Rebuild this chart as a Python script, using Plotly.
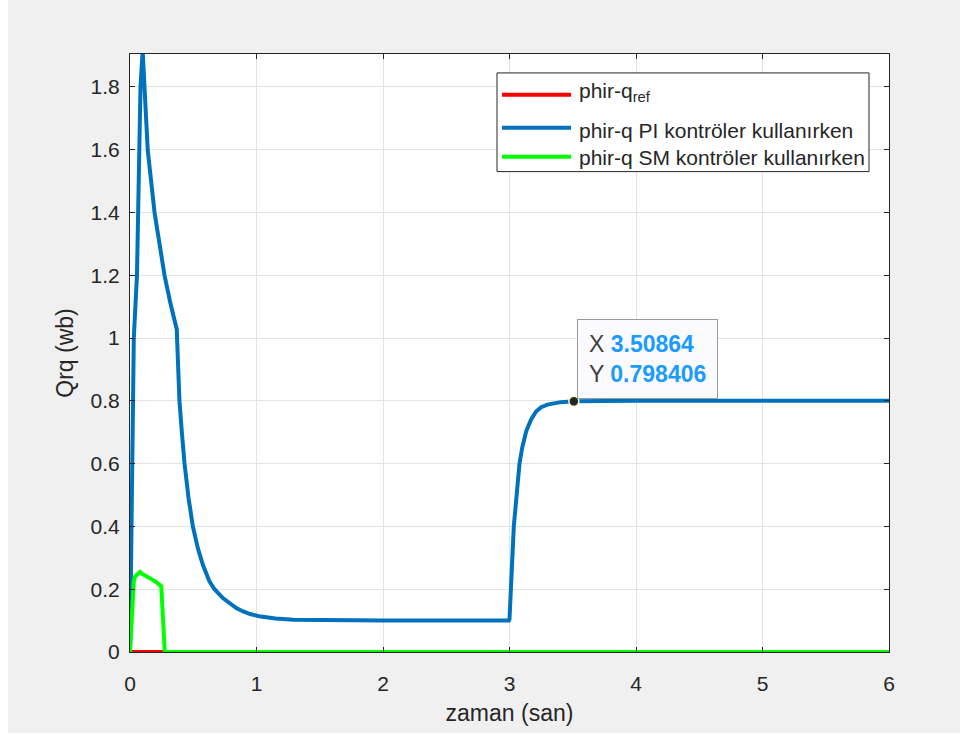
import plotly.graph_objects as go

# ---- data ----
t_ref = [0, 6]
q_ref = [0, 0]

t_pi = [0, 0.005, 0.012, 0.03, 0.055, 0.083, 0.10, 0.14, 0.194, 0.23, 0.273, 0.32, 0.365, 0.37,
        0.372, 0.378, 0.391, 0.41, 0.431, 0.463, 0.497, 0.536, 0.576, 0.628, 0.668, 0.734,
        0.79, 0.84, 0.89, 0.95, 1.02, 1.15, 1.29, 1.66, 2.0, 2.5, 2.995,
        3.0, 3.013, 3.034, 3.079, 3.10, 3.132, 3.17, 3.21, 3.25, 3.30, 3.35, 3.405,
        3.50864, 4.0, 5.0, 6.0]
q_pi = [0, 0.2, 0.5, 1.0, 1.2, 1.8, 1.915, 1.6, 1.4, 1.3, 1.2, 1.11, 1.035, 1.027,
        1.0, 0.915, 0.8, 0.70, 0.6, 0.49, 0.4, 0.331, 0.278, 0.225, 0.2, 0.172,
        0.153, 0.14, 0.13, 0.121, 0.114, 0.107, 0.103, 0.101, 0.1, 0.1, 0.1,
        0.105, 0.204, 0.4, 0.6, 0.65, 0.703, 0.74, 0.766, 0.78, 0.788, 0.793, 0.796,
        0.798406, 0.8, 0.8, 0.8]

t_sm = [0, 0.01, 0.03, 0.04, 0.07, 0.08, 0.10, 0.15, 0.20, 0.247, 0.26, 0.275, 6]
q_sm = [0, 0.10, 0.225, 0.24, 0.25, 0.255, 0.248, 0.238, 0.225, 0.21, 0.10, 0, 0]

tip_x = [3.50864]
tip_y = [0.798406]

x_ticks = [0, 1, 2, 3, 4, 5, 6]
y_ticks = [0, 0.2, 0.4, 0.6, 0.8, 1, 1.2, 1.4, 1.6, 1.8]
y_tick_text = ["0", "0.2", "0.4", "0.6", "0.8", "1", "1.2", "1.4", "1.6", "1.8"]

series_names = ["phir-q<sub>ref</sub>", "phir-q PI kontröler kullanırken",
                "phir-q SM kontröler kullanırken"]
series_colors = ["#ff0000", "#0072bd", "#00ff00"]

FONT = "Liberation Sans, Arial, Helvetica, sans-serif"
DARK = "#262626"

# plot-area geometry (pixels) used to place the hand-made legend box
PW, PH = 759, 600


def px(x):
    return x / PW


def py(y):
    return 1 - y / PH


fig = go.Figure()
for tx, qy, nm, col in zip([t_ref, t_pi, t_sm], [q_ref, q_pi, q_sm], series_names, series_colors):
    fig.add_trace(go.Scatter(x=tx, y=qy, mode="lines", name=nm, showlegend=False,
                             line=dict(color=col, width=4)))
fig.add_trace(go.Scatter(x=tip_x, y=tip_y, mode="markers", showlegend=False,
                         marker=dict(color="#262626", size=10,
                                     line=dict(color="#fffbc8", width=1.5))))

# data tip
fig.add_annotation(
    x=tip_x[0], y=tip_y[0], xref="x", yref="y", showarrow=False,
    xanchor="left", yanchor="bottom", xshift=3, yshift=2, align="left",
    text=("X <b><span style='color:#1a9bff'>%s</span></b><br>"
          "Y <b><span style='color:#1a9bff'>%s</span></b>") % ("3.50864", "0.798406"),
    font=dict(family=FONT, size=23, color="#404040"),
    bgcolor="#fafaff", bordercolor="#9a9a9a", borderwidth=1, borderpad=11,
)

# legend (box, line samples, labels), positioned relative to plot area
fig.add_shape(type="rect", xref="paper", yref="paper",
              x0=px(367), x1=px(739), y0=py(19), y1=py(118),
              fillcolor="white", line=dict(color=DARK, width=1))
row_y = [41, 74, 103]
text_y = [38, 77, 104]
for nm, col, ly, ty in zip(series_names, series_colors, row_y, text_y):
    fig.add_shape(type="line", xref="paper", yref="paper",
                  x0=px(372), x1=px(441), y0=py(ly), y1=py(ly),
                  line=dict(color=col, width=4))
    fig.add_annotation(x=px(447), y=py(ty), xref="paper", yref="paper", showarrow=False,
                       xanchor="left", yanchor="middle", text=nm,
                       font=dict(family=FONT, size=21, color=DARK))

axis_common = dict(
    showgrid=True, gridcolor="#e3e3e3", gridwidth=1,
    zeroline=False, showline=True, linecolor=DARK, linewidth=1,
    mirror="ticks", ticks="inside", ticklen=5, tickcolor=DARK,
    tickfont=dict(family=FONT, size=21, color=DARK),
)

fig.update_layout(
    width=960, height=733,
    margin=dict(l=122, r=79, t=54, b=79),
    paper_bgcolor="#f0f0f0", plot_bgcolor="white",
    font=dict(family=FONT, color=DARK),
    xaxis=dict(range=[0, 6], tickvals=x_ticks, ticklabelstandoff=13,
               title=dict(text="zaman (san)", font=dict(family=FONT, size=23, color=DARK),
                          standoff=10),
               **axis_common),
    yaxis=dict(range=[0, 1.905], tickvals=y_ticks, ticktext=y_tick_text, ticklabelstandoff=5,
               title=dict(text="Qrq (wb)", font=dict(family=FONT, size=23, color=DARK),
                          standoff=10),
               **axis_common),
    showlegend=False,
)

fig.write_html("out.html",
               post_script="document.body.style.marginTop='0px';"
                           "document.body.style.marginBottom='0px';")
